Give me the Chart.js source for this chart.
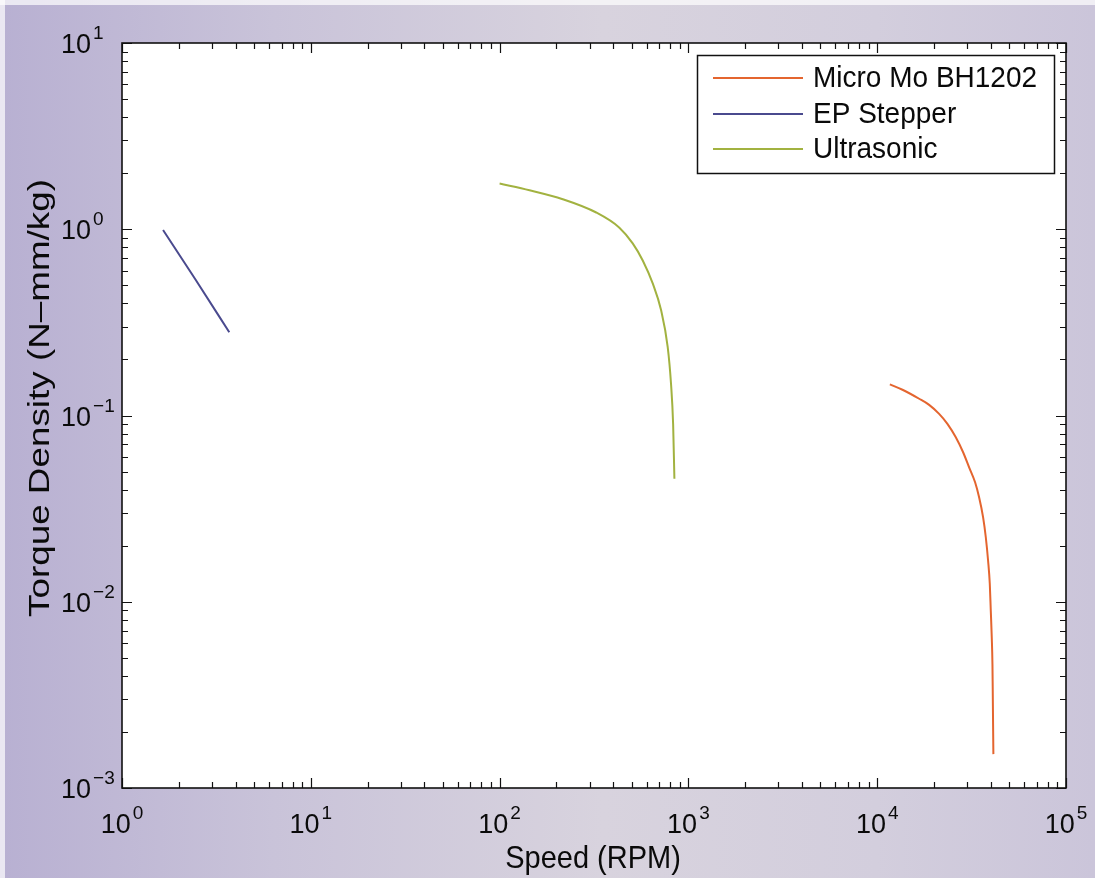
<!DOCTYPE html>
<html>
<head>
<meta charset="utf-8">
<script src="https://cdn.jsdelivr.net/npm/chart.js@4.4.0/dist/chart.umd.min.js"></script>
<style>
  html, body { margin: 0; padding: 0; background: #cfc9d9; }
  #wrap { width: 1095px; height: 878px; position: relative; }
  canvas { display: block; }
</style>
</head>
<body>
<div id="wrap"><canvas id="c" width="1095" height="878"></canvas></div>
<script>
// ---------------- data ----------------
const seriesNames = ['Micro Mo BH1202', 'EP Stepper', 'Ultrasonic'];
const seriesColors = ['#e4652f', '#4a4a8e', '#a2b240'];

const microMoSpeed  = [11670, 13610, 16680, 18840, 21280, 23550, 26080, 28510, 30680, 33000,
                       34650, 36390, 37600, 38670, 39480, 39960, 40440, 40780, 40910, 41240];
const microMoTorque = [0.147, 0.1375, 0.123, 0.114, 0.102, 0.0902, 0.0764, 0.0635, 0.0527, 0.0438,
                       0.0364, 0.0284, 0.0222, 0.0166, 0.01245, 0.00895, 0.00643, 0.00462, 0.00346, 0.00152];

const stepperSpeed  = [1.65, 2.45, 3.70];
const stepperTorque = [0.99, 0.537, 0.28];

const ultraSpeed  = [100, 144, 216, 325, 431, 507, 573, 648, 717, 777, 809, 830, 843];
const ultraTorque = [1.76, 1.62, 1.45, 1.23, 1.02, 0.84, 0.68, 0.51, 0.367, 0.233, 0.148, 0.090, 0.0457];

const xTickValues = [1, 10, 100, 1000, 10000, 100000];
const xTickExps   = ['0', '1', '2', '3', '4', '5'];
const yTickValues = [10, 1, 0.1, 0.01, 0.001];
const yTickExps   = ['1', '0', '\u22121', '\u22122', '\u22123'];
const tickBase = '10';

const xTitle = 'Speed (RPM)';
const yTitle = 'Torque Density (N\u2013mm/kg)';

// ---------------- build ----------------
function zip(xs, ys) { return xs.map((x, i) => ({ x: x, y: ys[i] })); }
const seriesData = [zip(microMoSpeed, microMoTorque), zip(stepperSpeed, stepperTorque), zip(ultraSpeed, ultraTorque)];

const FONT = '"Liberation Sans", Arial, Helvetica, sans-serif';

const decorPlugin = {
  id: 'decor',
  beforeDraw(chart) {
    const ctx = chart.ctx, W = chart.width, H = chart.height;
    ctx.save();
    const g = ctx.createLinearGradient(0, 0, W, 0);
    g.addColorStop(0, '#b8b0d2');
    g.addColorStop(0.25, '#c9c3d9');
    g.addColorStop(0.55, '#d8d3de');
    g.addColorStop(0.8, '#d3cedd');
    g.addColorStop(1, '#cbc5da');
    ctx.fillStyle = g;
    ctx.fillRect(0, 0, W, H);
    ctx.fillStyle = 'rgba(255,255,255,0.7)';
    ctx.fillRect(0, 0, W, 5);
    ctx.fillRect(0, 0, 5, H);
    const a = chart.chartArea;
    ctx.fillStyle = '#ffffff';
    ctx.fillRect(a.left, a.top, a.right - a.left, a.bottom - a.top);
    ctx.restore();
  },
  afterDraw(chart) {
    const ctx = chart.ctx, a = chart.chartArea;
    const xs = chart.scales.x, ys = chart.scales.y;
    ctx.save();
    ctx.strokeStyle = '#111';
    ctx.lineWidth = 1.2;
    // ticks
    const majorLen = 10, minorLen = 6;
    ctx.beginPath();
    for (let d = 0; d < xTickValues.length; d++) {
      const base = xTickValues[d];
      for (let m = 1; m <= 9; m++) {
        const v = base * m;
        if (v > xTickValues[xTickValues.length - 1]) break;
        const px = Math.round(xs.getPixelForValue(v)) + 0.5;
        const len = m === 1 ? majorLen : minorLen;
        ctx.moveTo(px, a.bottom); ctx.lineTo(px, a.bottom - len);
        ctx.moveTo(px, a.top); ctx.lineTo(px, a.top + len);
      }
    }
    for (let d = 0; d < yTickValues.length; d++) {
      const base = yTickValues[d];
      for (let m = 1; m <= 9; m++) {
        const v = base * m;
        if (v > yTickValues[0]) break;
        const py = Math.round(ys.getPixelForValue(v)) + 0.5;
        const len = m === 1 ? majorLen : minorLen;
        ctx.moveTo(a.left, py); ctx.lineTo(a.left + len, py);
        ctx.moveTo(a.right, py); ctx.lineTo(a.right - len, py);
      }
    }
    ctx.stroke();
    // frame
    ctx.lineWidth = 1.6;
    ctx.strokeRect(a.left, a.top, a.right - a.left, a.bottom - a.top);

    // tick labels
    ctx.fillStyle = '#0a0a0a';
    ctx.textBaseline = 'alphabetic';
    const bigF = '27px ' + FONT, smallF = '19px ' + FONT;
    xTickValues.forEach((v, i) => {
      const px = xs.getPixelForValue(v);
      ctx.font = bigF; const w1 = ctx.measureText(tickBase).width;
      ctx.font = smallF; const w2 = ctx.measureText(xTickExps[i]).width;
      const left = px - (w1 + 2 + w2) / 2;
      ctx.font = bigF; ctx.textAlign = 'left';
      ctx.fillText(tickBase, left, 833);
      ctx.font = smallF;
      ctx.fillText(xTickExps[i], left + w1 + 2, 819);
    });
    yTickValues.forEach((v, i) => {
      const py = ys.getPixelForValue(v);
      ctx.font = bigF; ctx.textAlign = 'left';
      const w1 = ctx.measureText(tickBase).width;
      ctx.fillText(tickBase, 61, py + 10);
      ctx.font = smallF;
      ctx.fillText(yTickExps[i], 61 + w1 + 2, py - 4);
    });

    // axis titles
    ctx.font = '29px ' + FONT;
    ctx.textAlign = 'center';
    ctx.textBaseline = 'middle';
    ctx.save();
    ctx.translate(593, 859);
    ctx.scale(1, 1.08);
    ctx.fillText(xTitle, 0, 0);
    ctx.restore();
    ctx.save();
    ctx.translate(41, 398);
    ctx.rotate(-Math.PI / 2);
    ctx.scale(1.27, 1);
    ctx.fillText(yTitle, 0, 0);
    ctx.restore();

    // legend
    const lx = 697, ly = 55, lw = 357, lh = 118;
    ctx.fillStyle = '#ffffff';
    ctx.fillRect(lx, ly, lw, lh);
    ctx.strokeStyle = '#111';
    ctx.lineWidth = 1.5;
    ctx.strokeRect(lx + 0.5, ly + 0.5, lw, lh);
    const rows = [78, 114, 149];
    ctx.font = '28px ' + FONT;
    ctx.textAlign = 'left';
    ctx.textBaseline = 'middle';
    chart.data.datasets.forEach((ds, i) => {
      ctx.strokeStyle = ds.borderColor;
      ctx.lineWidth = 2;
      ctx.beginPath();
      ctx.moveTo(713, rows[i]); ctx.lineTo(803, rows[i]);
      ctx.stroke();
      ctx.fillStyle = '#0a0a0a';
      ctx.save();
      ctx.translate(813, rows[i] + 1);
      ctx.scale(1, 1.06);
      ctx.fillText(ds.label, 0, 0);
      ctx.restore();
    });
    ctx.restore();
  }
};

new Chart(document.getElementById('c'), {
  type: 'scatter',
  data: {
    datasets: seriesNames.map((n, i) => ({
      label: n,
      data: seriesData[i],
      showLine: true,
      borderColor: seriesColors[i],
      backgroundColor: seriesColors[i],
      borderWidth: 2,
      pointRadius: 0,
      cubicInterpolationMode: 'monotone',
      fill: false
    }))
  },
  options: {
    responsive: false,
    animation: false,
    devicePixelRatio: 1,
    layout: { padding: { left: 0, right: 29, top: 43, bottom: 0 } },
    plugins: { legend: { display: false }, tooltip: { enabled: false } },
    scales: {
      x: {
        type: 'logarithmic', min: 1, max: 100000,
        grid: { display: false }, border: { display: false },
        ticks: { display: false },
        afterFit(s) { s.height = 90; }
      },
      y: {
        type: 'logarithmic', min: 0.001, max: 10,
        grid: { display: false }, border: { display: false },
        ticks: { display: false },
        afterFit(s) { s.width = 122; }
      }
    }
  },
  plugins: [decorPlugin]
});
</script>
</body>
</html>
